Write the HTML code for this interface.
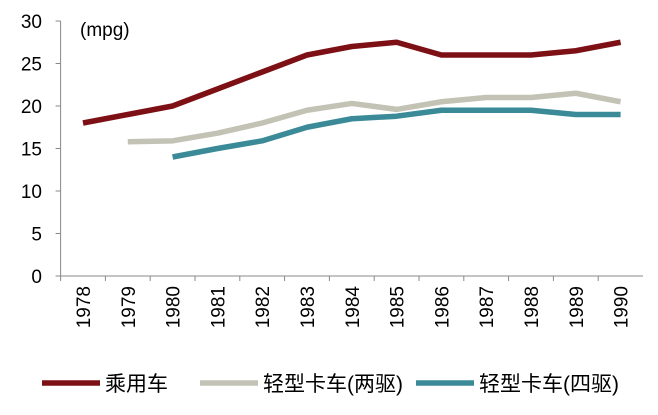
<!DOCTYPE html>
<html><head><meta charset="utf-8"><style>
body{margin:0;background:#fff;}
svg text{font-family:"Liberation Sans","Noto Sans CJK SC",sans-serif;fill:#000;}
</style></head><body>
<svg id="chart" width="658" height="410">
<g id="axes"></g><g id="series"></g><g id="legend"></g>
</svg>
<script>
const years=["1978","1979","1980","1981","1982","1983","1984","1985","1986","1987","1988","1989","1990"];
const passenger=[18,19,20,22,24,26,27,27.5,26,26,26,26.5,27.5];
const truck2wd=[null,15.8,15.9,16.8,18,19.5,20.3,19.6,20.5,21,21,21.5,20.5];
const truck4wd=[null,null,14,15,15.9,17.5,18.5,18.8,19.5,19.5,19.5,19,19];
const yTicks=[0,5,10,15,20,25,30];
const seriesNames=["乘用车","轻型卡车(两驱)","轻型卡车(四驱)"];
const colors=["#7d1015","#c3c3b5","#3b8a98"];
const NS="http://www.w3.org/2000/svg";
const x0=60.6,cw=44.8,yBase=276,yScale=8.5;
const xPos=i=>x0+cw*(i+0.5);
const yPos=v=>yBase-v*yScale;
function mk(tag,attrs,parent,txt){const e=document.createElementNS(NS,tag);for(const k in attrs)e.setAttribute(k,attrs[k]);if(txt!=null)e.textContent=txt;parent.appendChild(e);return e;}
const axes=document.getElementById('axes');
let l=mk('line',{x1:x0,y1:yPos(30),x2:x0,y2:yBase,stroke:'#888','stroke-width':1},axes);


l=mk('line',{x1:x0,y1:yBase,x2:x0+cw*years.length,y2:yBase,stroke:'#888','stroke-width':1},axes);


yTicks.forEach(v=>{
 const t=mk('line',{x1:x0-5,y1:yPos(v),x2:x0,y2:yPos(v),stroke:'#888'},axes);
 
 
 const tx=mk('text',{x:42,y:yPos(v)+7,'text-anchor':'end','font-size':19},axes,String(v));
 
 
});
years.forEach((y,i)=>{
 const t=mk('line',{x1:x0+cw*i,y1:yBase,x2:x0+cw*i,y2:yBase+5,stroke:'#888'},axes);
 
 
 const tx=mk('text',{x:0,y:0,'text-anchor':'end','font-size':19,transform:`translate(${xPos(i)+7},${yBase+10}) rotate(-90)`},axes,y);
 
 
});
const unit=mk('text',{x:80,y:36,'font-size':19},axes,'(mpg)');


const ser=document.getElementById('series');
[passenger,truck2wd,truck4wd].forEach((arr,si)=>{
 const pts=[];arr.forEach((v,i)=>{if(v!=null)pts.push(xPos(i)+','+yPos(v));});
 const p=mk('polyline',{points:pts.join(' '),fill:'none',stroke:colors[si],'stroke-width':5.5,'stroke-linejoin':'round'},ser);
 
 
});
const leg=document.getElementById('legend');
const lx=[42,200,416];
seriesNames.forEach((n,i)=>{
 const g=mk('g',{},leg);
 
 
 mk('line',{x1:lx[i],y1:383,x2:lx[i]+58,y2:383,stroke:colors[i],'stroke-width':5.5},g);
 mk('text',{x:lx[i]+63,y:391,'font-size':21},g,n);
});
</script>
</body></html>
